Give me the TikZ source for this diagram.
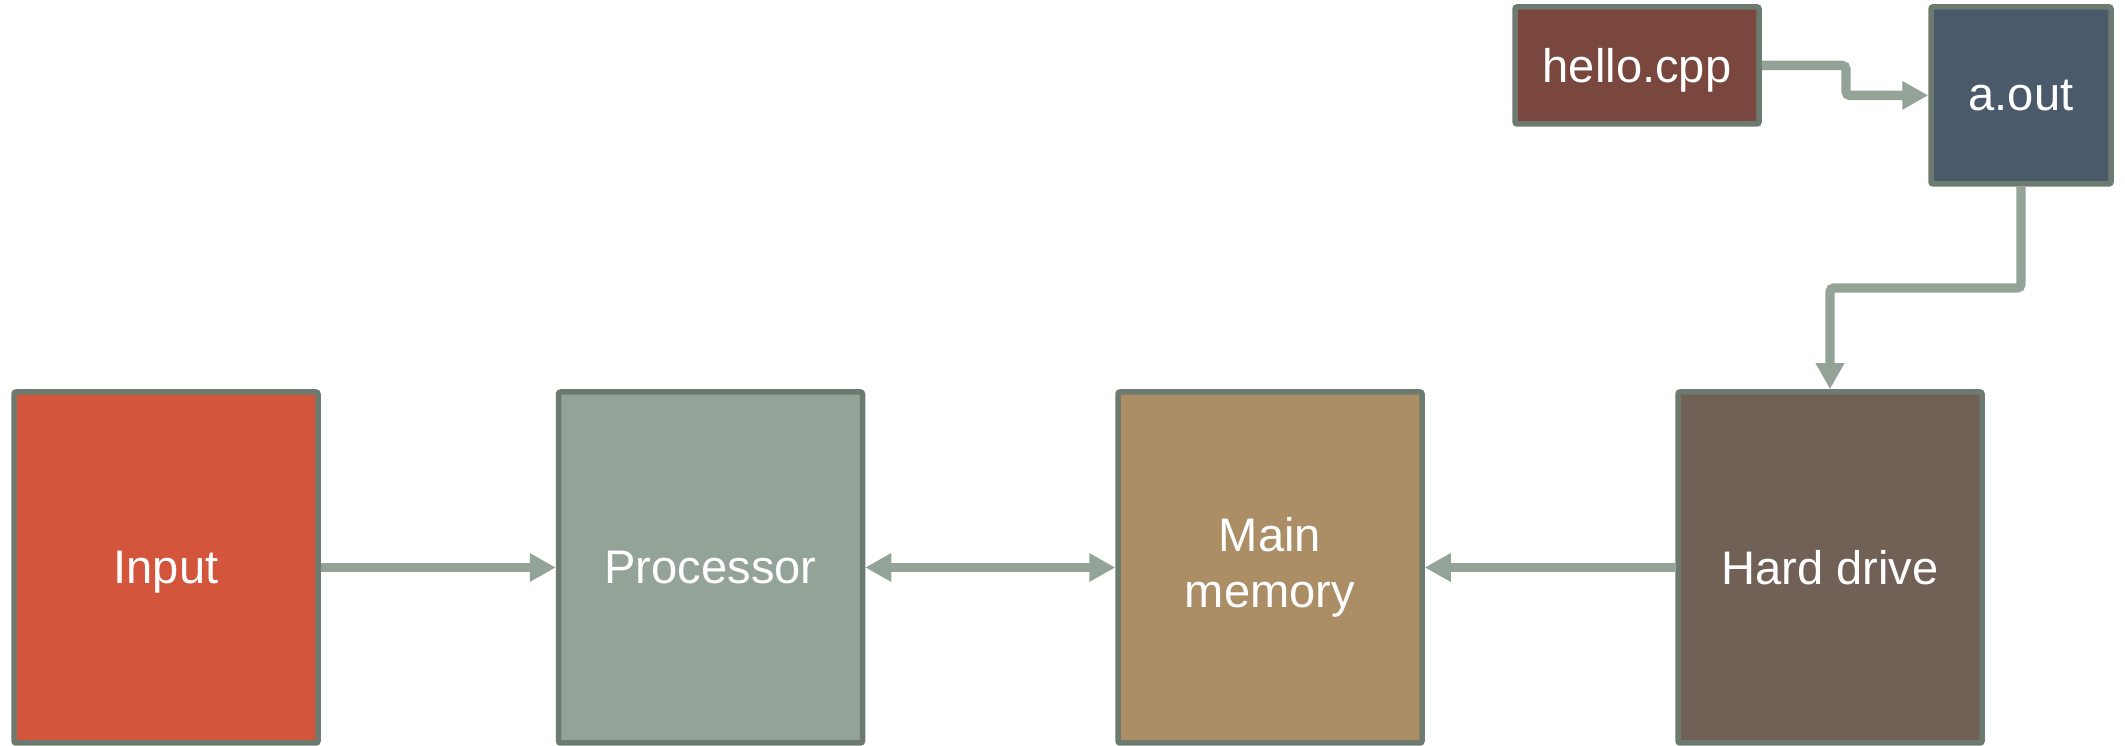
\documentclass[tikz,border=0pt]{standalone}
\usepackage{fontspec}
\setmainfont{Liberation Sans}
\usepackage{tikz}
\usetikzlibrary{arrows.meta}
\usetikzlibrary{positioning}
\usepackage{xcolor}

\definecolor{edgegray}{HTML}{6D7A70}
\definecolor{flowgray}{HTML}{93A398}
\definecolor{inputred}{HTML}{D2553C}
\definecolor{procgray}{HTML}{93A398}
\definecolor{memtan}{HTML}{AB8E66}
\definecolor{diskbrown}{HTML}{716055}
\definecolor{srcbrown}{HTML}{79473D}
\definecolor{binslate}{HTML}{4B5A6A}

\begin{document}
\begin{tikzpicture}[
    unit/.style={draw=edgegray, line width=0.055cm, rounded corners=0.6pt, inner sep=0pt,
                 text=white, align=center, font=\fontsize{13.4pt}{16pt}\selectfont},
    big/.style={unit, minimum width=3.04cm, minimum height=3.51cm},
    flat/.style={text depth=0pt},
    flow/.style={draw=flowgray, line width=0.094cm, rounded corners=0.04cm},
    >={Triangle[length=0.26cm,width=0.27cm]}
]
            \useasboundingbox (0,0) rectangle (21.25,-7.46);

            % Machine: input, processor, memory, disk
            \node[big, flat, fill=inputred] (in) at (1.66,-5.675) {Input};
            \node[big, fill=procgray] (proc) at (7.105,-5.675) {Processor};
            \node[big, fill=memtan] (mem) at (12.70,-5.675) {Main\\memory};
            \node[big, fill=diskbrown] (disk) at (18.30,-5.675) {Hard drive};

            % Source and compiled program
            \node[unit, flat, fill=srcbrown, minimum width=2.44cm, minimum height=1.17cm] (src) at (16.37,-0.654) {hello.cpp};
            \node[unit, fill=binslate, minimum width=1.80cm, minimum height=1.77cm] (bin) at (20.21,-0.954) {a.out};

            \coordinate (b1) at (18.46,-0.654);
            \coordinate (b2) at (18.30,-2.88);

            \draw[flow,->] (in) -- (proc);
            \draw[flow,<->] (proc) -- (mem);
            \draw[flow,->] (disk) -- (mem);
            \draw[flow,->] (src.east) -- (b1) |- (bin.west);
            \draw[flow,->] (bin.south) |- (b2) -- (disk.north);
        \end{tikzpicture}
\end{document}
